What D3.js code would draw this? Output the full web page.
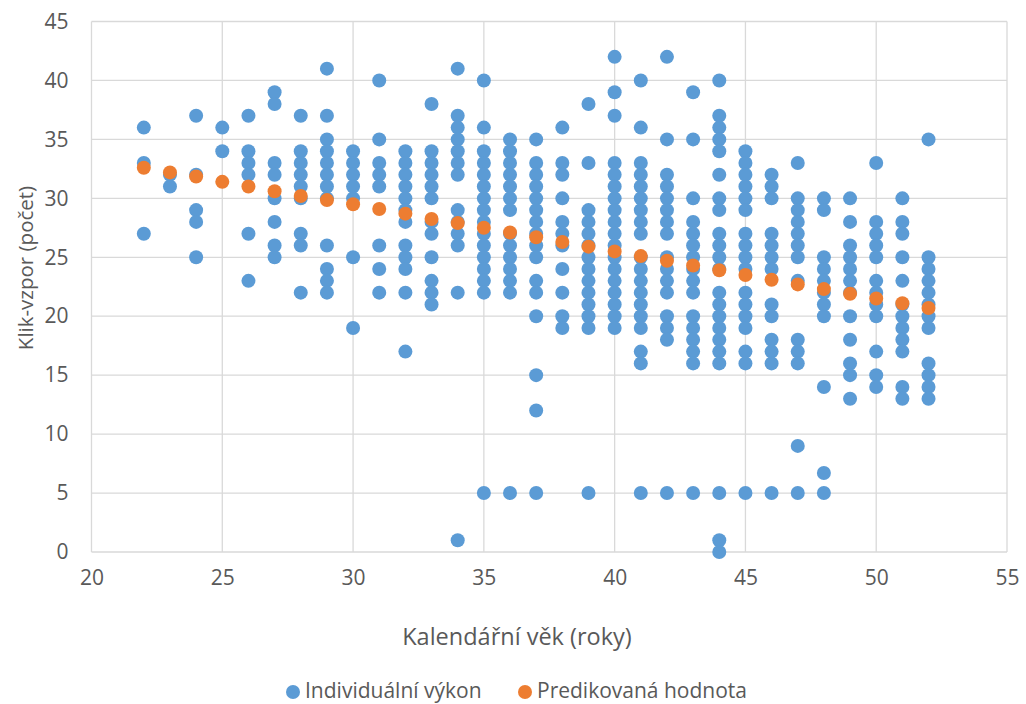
<!DOCTYPE html>
<html><head><meta charset="utf-8">
<script src="https://cdn.jsdelivr.net/npm/d3@7/dist/d3.min.js"></script>
<style>
body{margin:0;background:#fff;}
text{font-family:"Open Sans",sans-serif;fill:#595959;}
</style></head>
<body><svg id="c" width="1026" height="704"></svg>
<script>
// Ages (x) and observed values per age
const ages = [22,23,24,25,26,27,28,29,30,31,32,33,34,35,36,37,38,39,40,41,42,43,44,45,46,47,48,49,50,51,52];
const observed = [
  [36,33,27],
  [32,31],
  [37,32,29,28,25],
  [36,34],
  [37,34,33,32,27,23],
  [39,38,33,32,30,28,26,25],
  [37,34,33,32,31,30,27,26,22],
  [41,37,35,34,33,32,31,30,26,24,23,22],
  [34,33,32,31,30,25,19],
  [40,35,33,32,31,26,24,22],
  [34,33,32,31,30,29,28,26,25,24,22,17],
  [38,34,33,32,31,30,28,27,25,23,22,21],
  [41,37,36,35,34,33,32,29,28,27,26,22,1],
  [40,36,34,33,32,31,30,29,28,27,26,25,24,23,22,5],
  [35,34,33,32,31,30,29,27,26,25,24,23,22,5],
  [35,33,32,31,30,29,28,27,26,25,23,22,20,15,12,5],
  [36,33,32,30,28,27,26,24,22,20,19],
  [38,33,29,28,27,26,25,24,23,22,21,20,19,5],
  [42,39,37,33,32,31,30,29,28,27,26,25,24,23,22,21,20,19],
  [40,36,33,32,31,30,29,28,27,25,24,23,22,21,20,19,17,16,5],
  [42,35,32,31,30,29,28,27,25,24,23,22,20,19,18,5],
  [39,35,30,28,27,26,25,24,23,22,20,19,18,17,16,5],
  [40,37,36,35,34,32,30,29,27,26,25,24,22,21,20,19,18,17,16,5,1,0],
  [34,33,32,31,30,29,27,26,25,24,22,21,20,19,17,16,5],
  [32,31,30,27,26,25,24,21,20,18,17,16,5],
  [33,30,29,28,27,26,25,23,18,17,16,9,5],
  [30,29,25,24,23,22,21,20,14,6.7,5],
  [30,28,26,25,24,23,22,20,18,16,15,13],
  [33,28,27,26,25,23,22,21,20,17,15,14],
  [30,28,27,25,23,21,20,19,18,17,14,13],
  [35,25,24,23,22,21,20,19,16,15,14,13]
];
const predicted = [32.6,32.2,31.85,31.4,31.0,30.6,30.2,29.85,29.5,29.1,28.7,28.25,27.9,27.5,27.1,26.7,26.3,25.9,25.5,25.1,24.7,24.3,23.9,23.5,23.1,22.7,22.3,21.9,21.5,21.1,20.7];
const xTicks = [20,25,30,35,40,45,50,55];
const yTicks = [0,5,10,15,20,25,30,35,40,45];
const seriesNames = ["Individuální výkon","Predikovaná hodnota"];
const xTitle = "Kalendářní věk (roky)";
const yTitle = "Klik-vzpor (počet)";

const blue = "#5B9BD5", orange = "#ED7D31", grid = "#D9D9D9";
const svg = d3.select("#c");
const x = d3.scaleLinear().domain([20,55]).range([91.5,1007]);
const y = d3.scaleLinear().domain([0,45]).range([552,21.5]);

// gridlines
svg.append("g").selectAll("line").data(yTicks).join("line")
  .attr("x1",x(20)).attr("x2",x(55)).attr("y1",d=>y(d)).attr("y2",d=>y(d))
  .attr("stroke",grid).attr("stroke-width",1.3);
svg.append("g").selectAll("line").data(xTicks).join("line")
  .attr("y1",y(0)).attr("y2",y(45)).attr("x1",d=>x(d)).attr("x2",d=>x(d))
  .attr("stroke",grid).attr("stroke-width",1.3);

// axes (labels only)
const xa = svg.append("g").attr("transform",`translate(0,${y(0)})`)
  .call(d3.axisBottom(x).tickValues(xTicks).tickSize(0).tickPadding(18));
xa.select(".domain").remove();
xa.selectAll("text").style("font-size","21px").attr("fill","#595959").style("font-family","'Open Sans',sans-serif");
const ya = svg.append("g").attr("transform",`translate(${x(20)},0)`)
  .call(d3.axisLeft(y).tickValues(yTicks).tickSize(0).tickPadding(23));
ya.select(".domain").remove();
ya.selectAll("text").style("font-size","21px").attr("fill","#595959").style("font-family","'Open Sans',sans-serif");

// points
const pts = [];
ages.forEach((a,i)=>observed[i].forEach(v=>pts.push([a,v])));
svg.append("g").selectAll("circle").data(pts).join("circle")
  .attr("cx",d=>x(d[0])).attr("cy",d=>y(d[1])).attr("r",7).attr("fill",blue);
svg.append("g").selectAll("circle").data(ages.map((a,i)=>[a,predicted[i]])).join("circle")
  .attr("cx",d=>x(d[0])).attr("cy",d=>y(d[1])).attr("r",7).attr("fill",orange);

// titles
svg.append("text").attr("x",517).attr("y",645).attr("text-anchor","middle")
  .style("font-size","23.5px").text(xTitle);
svg.append("text").attr("transform",`translate(33,268) rotate(-90)`).attr("text-anchor","middle")
  .style("font-size","20.5px").text(yTitle);

// legend
const leg = [{n:seriesNames[0],c:blue,x:293},{n:seriesNames[1],c:orange,x:525}];
leg.forEach(l=>{
  svg.append("circle").attr("cx",l.x).attr("cy",692).attr("r",7).attr("fill",l.c);
  svg.append("text").attr("x",l.x+12).attr("y",698).style("font-size","21px").text(l.n);
});
</script></body></html>
